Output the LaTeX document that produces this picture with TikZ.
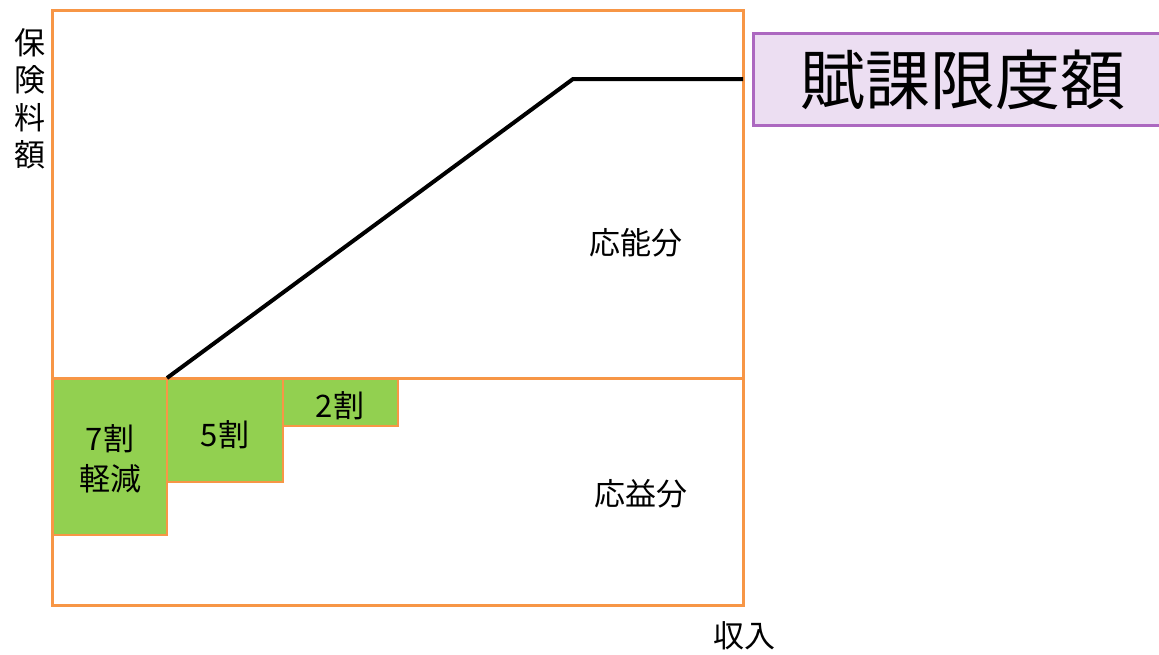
\documentclass[tikz,border=0pt]{standalone}
\usepackage{fontspec}
\setmainfont{Noto Sans CJK JP}
\definecolor{frameorange}{RGB}{247,150,70}
\definecolor{barGreen}{RGB}{146,208,80}
\definecolor{limitPurple}{RGB}{172,104,192}
\definecolor{limitFill}{RGB}{236,222,242}
\begin{document}
\begin{tikzpicture}[x=1pt,y=-1pt,
  frame/.style={draw=frameorange,line width=3pt},
  greenbox/.style={draw=frameorange,fill=barGreen,line width=2.5pt},
  lbl/.style={inner sep=0pt,font=\fontsize{31}{40}\selectfont,align=center},
  curve/.style={line width=4pt,black}]
\useasboundingbox (0,0) rectangle (1159,654);
\fill[white] (0,0) rectangle (1159,654);
% boxes
\draw[greenbox] (52,378) rectangle (167,535);
\draw[greenbox] (167,378) rectangle (283,482);
\draw[greenbox] (283,378) rectangle (398,426);
\draw[frame] (52,378) -- (743,378);
\draw[frame] (52,10) rectangle (743,605);
% limit label
\node[draw=limitPurple,fill=limitFill,line width=3pt,minimum width=520pt,minimum height=92pt,anchor=west,inner sep=0pt] (limit) at (752,79) {};
\node[inner sep=0pt,font=\fontsize{65}{65}\selectfont] (limitText) at (963,80) {賦課限度額};
% curve
\coordinate (c0) at (167,378);
\coordinate (c1) at (573,79);
\coordinate (c2) at (743,79);
\draw[curve,line join=miter] (c0) -- (c1) -- (c2);
% labels
\node[lbl] (n7) at (110,459) {7割\\軽減};
\node[lbl] (n5) at (225,435) {5割};
\node[lbl] (n2) at (340,406) {2割};
\node[lbl] (ono) at (636,243) {応能分};
\node[lbl] (oeki) at (641,494) {応益分};
\node[lbl] (inc) at (744,636) {収入};
\node[inner sep=0pt,font=\fontsize{31}{37.5}\selectfont,align=center] (ylab) at (30,99) {保\\険\\料\\額};
\end{tikzpicture}
\end{document}
